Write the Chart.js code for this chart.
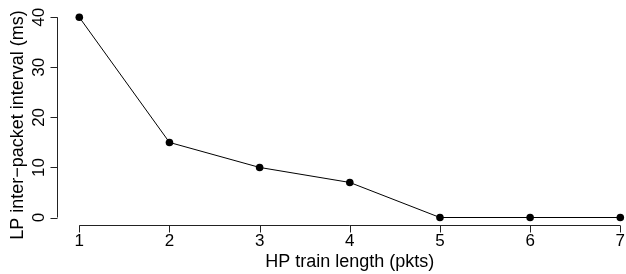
<!DOCTYPE html>
<html><head><meta charset="utf-8">
<script src="https://cdn.jsdelivr.net/npm/chart.js@4"></script>
<style>html,body{margin:0;padding:0;background:#fff}#wrap{width:626px;height:274px}</style>
</head><body><div id="wrap"><canvas id="c" width="626" height="274"></canvas></div>
<script>
const trainLength = [1, 2, 3, 4, 5, 6, 7];
const interval = [40, 15, 10, 7, 0, 0, 0];
const yTicks = [0, 10, 20, 30, 40];
const xTicks = [1, 2, 3, 4, 5, 6, 7];
const xTitle = 'HP train length (pkts)';
const yTitle = 'LP inter\u2212packet interval (ms)';
const TICKFONT = '17px "Liberation Sans", Arial, sans-serif';
const TITLEFONT = '18px "Liberation Sans", Arial, sans-serif';

const rAxes = {
  id: 'rAxes',
  afterDraw(chart) {
    const ctx = chart.ctx, xs = chart.scales.x, ys = chart.scales.y;
    ctx.save();
    ctx.strokeStyle = '#222'; ctx.lineWidth = 1; ctx.fillStyle = '#000';
    // x axis
    const ay = 225.5;
    ctx.beginPath();
    ctx.moveTo(xs.getPixelForValue(xTicks[0]), ay);
    ctx.lineTo(xs.getPixelForValue(xTicks[xTicks.length-1]), ay);
    xTicks.forEach(t => { const p = Math.round(xs.getPixelForValue(t)) + 0.5; ctx.moveTo(p, ay); ctx.lineTo(p, ay + 7); });
    ctx.stroke();
    ctx.textAlign = 'center'; ctx.textBaseline = 'alphabetic';
    ctx.font = TICKFONT;
    xTicks.forEach(t => ctx.fillText(String(t), xs.getPixelForValue(t), 245.5));
    ctx.font = TITLEFONT;
    ctx.fillText(xTitle, (xs.left + xs.right) / 2, 267);
    // y axis
    const ax = 57.5;
    ctx.beginPath();
    ctx.moveTo(ax, ys.getPixelForValue(yTicks[0]));
    ctx.lineTo(ax, ys.getPixelForValue(yTicks[yTicks.length-1]));
    yTicks.forEach(t => { const p = Math.round(ys.getPixelForValue(t)) + 0.5; ctx.moveTo(ax, p); ctx.lineTo(ax - 7, p); });
    ctx.stroke();
    ctx.font = TICKFONT;
    yTicks.forEach(t => {
      ctx.save(); ctx.translate(43.5, ys.getPixelForValue(t)); ctx.rotate(-Math.PI/2);
      ctx.fillText(String(t), 0, 0); ctx.restore();
    });
    ctx.font = TITLEFONT;
    ctx.save(); ctx.translate(22.5, 125); ctx.rotate(-Math.PI/2);
    ctx.fillText(yTitle, 0, 0); ctx.restore();
    ctx.restore();
  }
};

new Chart(document.getElementById('c'), {
  type: 'line',
  data: { datasets: [{
    data: trainLength.map((x, i) => ({ x, y: interval[i] })),
    borderColor: '#000', borderWidth: 1, backgroundColor: '#000',
    pointRadius: 3.8, pointBackgroundColor: '#000', pointBorderWidth: 0,
    tension: 0, clip: false
  }]},
  options: {
    responsive: false, animation: false, devicePixelRatio: 1,
    layout: { padding: { left: 79.3, top: 17.3, right: 5.7, bottom: 56.5 } },
    plugins: { legend: { display: false }, tooltip: { enabled: false } },
    scales: {
      x: { type: 'linear', min: 1, max: 7, display: false },
      y: { type: 'linear', min: 0, max: 40, display: false }
    }
  },
  plugins: [rAxes]
});
</script></body></html>
